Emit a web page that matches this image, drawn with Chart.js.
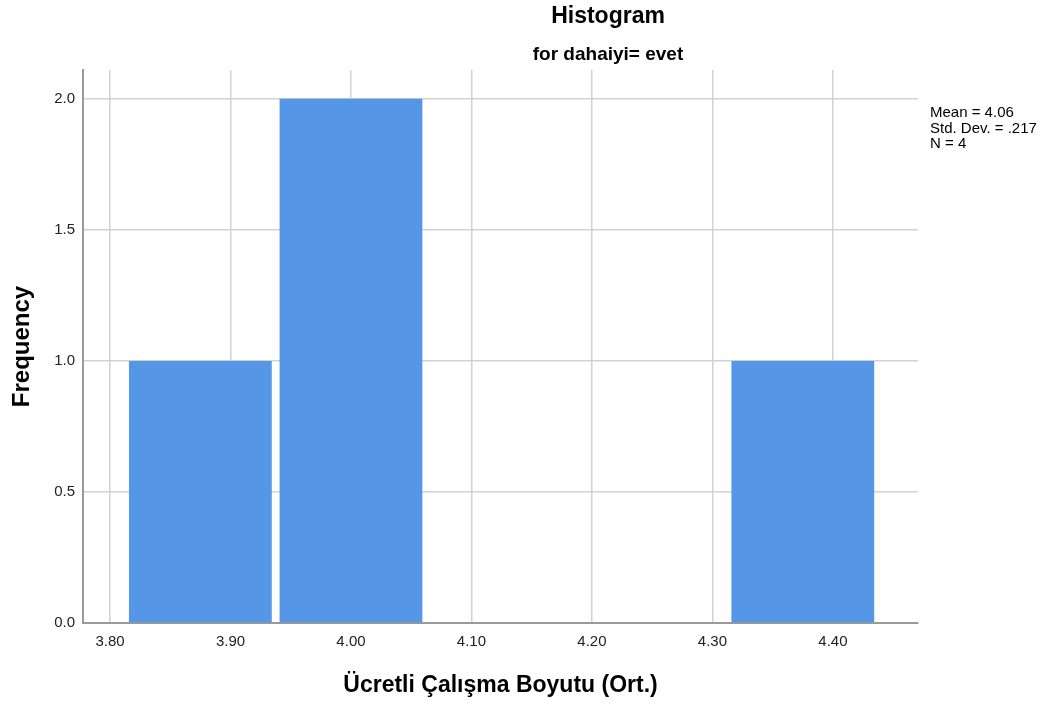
<!DOCTYPE html>
<html>
<head>
<meta charset="utf-8">
<script src="https://cdn.jsdelivr.net/npm/chart.js@4"></script>
<style>
  html, body { margin: 0; padding: 0; background: #fff; }
  #wrap { width: 1053px; height: 704px; }
</style>
</head>
<body>
<div id="wrap"><canvas id="chart"></canvas></div>
<script>
// histogram bins (centres) and their counts
const binCenters = [3.875, 4.0, 4.125, 4.25, 4.375];
const counts = [1, 2, 0, 0, 1];
const xTicks = [3.80, 3.90, 4.00, 4.10, 4.20, 4.30, 4.40];
const yTicks = [0, 0.5, 1.0, 1.5, 2.0];
const statsLines = ['Mean = 4.06', 'Std. Dev. = .217', 'N = 4'];

const titleText = 'Histogram';
const subtitleText = 'for dahaiyi= evet';
const xTitle = 'Ücretli Çalışma Boyutu (Ort.)';
const yTitle = 'Frequency';

const FONT = "'Liberation Sans', Arial, sans-serif";

const textPlugin = {
  id: 'spssText',
  afterDraw(chart) {
    const ctx = chart.ctx;
    const area = chart.chartArea;
    ctx.save();
    ctx.fillStyle = '#000';
    ctx.textBaseline = 'middle';

    ctx.textAlign = 'center';
    ctx.font = 'bold 23px ' + FONT;
    ctx.fillText(titleText, 608, 17);
    ctx.font = 'bold 19px ' + FONT;
    ctx.fillText(subtitleText, 608, 55);

    ctx.font = 'bold 23px ' + FONT;
    ctx.fillText(xTitle, (area.left + area.right) / 2, 686);

    ctx.save();
    ctx.translate(22, (area.top + area.bottom) / 2);
    ctx.rotate(-Math.PI / 2);
    ctx.font = 'bold 24px ' + FONT;
    ctx.fillText(yTitle, 0, 0);
    ctx.restore();

    ctx.textAlign = 'left';
    ctx.font = '15px ' + FONT;
    statsLines.forEach((s, i) => {
      ctx.fillText(s, area.right + 12, 113 + i * 15.5);
    });
    ctx.restore();
  }
};

new Chart(document.getElementById('chart'), {
  type: 'bar',
  data: {
    datasets: [{
      label: 'Frequency',
      data: binCenters.map((x, i) => ({x: x, y: counts[i]})),
      backgroundColor: '#5596e6',
      borderWidth: 0,
      categoryPercentage: 1,
      barPercentage: 1.185
    }]
  },
  options: {
    responsive: true,
    maintainAspectRatio: false,
    animation: false,
    layout: {
      padding: {left: 0, right: 135, top: 70, bottom: 0}
    },
    plugins: {
      legend: {display: false},
      tooltip: {enabled: false}
    },
    scales: {
      x: {
        type: 'linear',
        min: 3.7776,
        max: 4.4706,
        offset: false,
        grid: {
          offset: false,
          color: '#d2d2d2',
          lineWidth: 1.5,
          drawTicks: false
        },
        border: {color: '#9a9a9a', width: 2},
        ticks: {
          padding: 10,
          color: '#222',
          font: {family: FONT, size: 15},
          callback: v => v.toFixed(2)
        },
        afterBuildTicks: scale => {
          scale.ticks = xTicks.map(v => ({value: v}));
        },
        afterFit: scale => {
          scale.height = 81;
        }
      },
      y: {
        min: 0,
        max: 2.11,
        grid: {
          color: '#d2d2d2',
          lineWidth: 1.5,
          drawTicks: false
        },
        border: {color: '#9a9a9a', width: 2},
        ticks: {
          padding: 8,
          color: '#222',
          font: {family: FONT, size: 15},
          callback: v => v.toFixed(1)
        },
        afterBuildTicks: scale => {
          scale.ticks = yTicks.map(v => ({value: v}));
        },
        afterFit: scale => {
          scale.width = 83;
        }
      }
    }
  },
  plugins: [textPlugin]
});
</script>
</body>
</html>
